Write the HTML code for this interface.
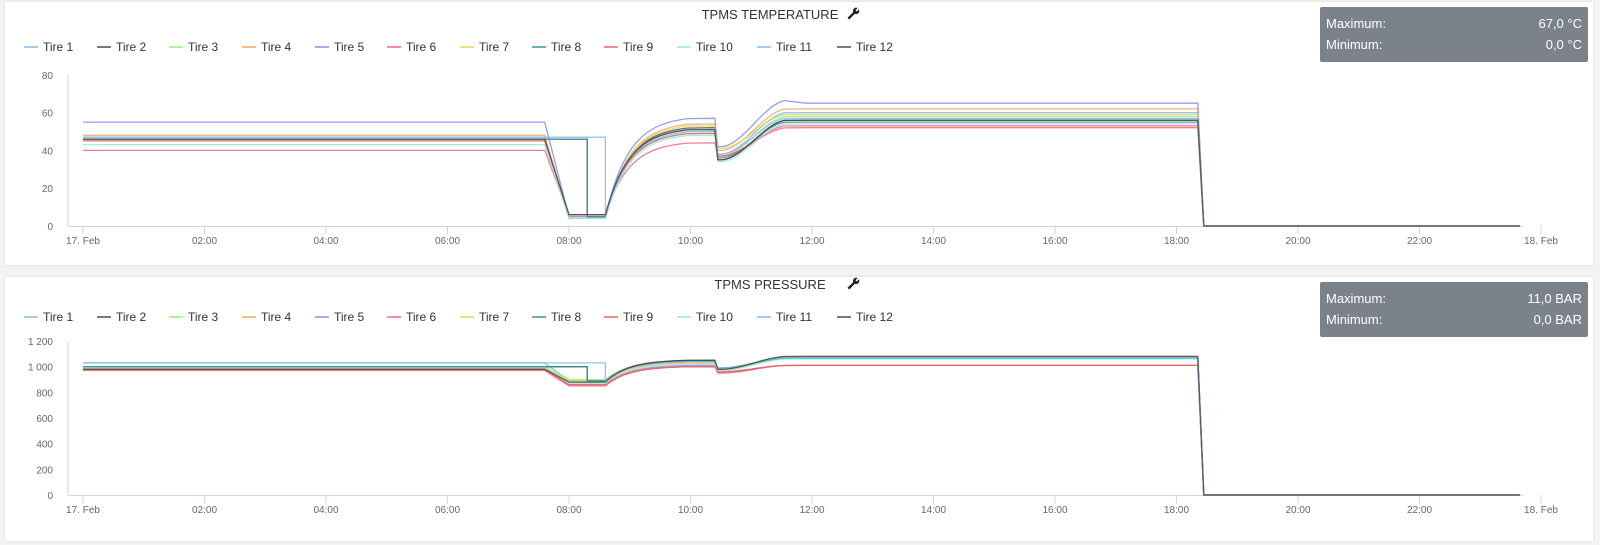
<!DOCTYPE html>
<html><head><meta charset="utf-8"><style>
body{margin:0;width:1600px;height:545px;background:#f3f3f3;font-family:"Liberation Sans",sans-serif;overflow:hidden;position:relative}
.panel{position:absolute;left:5px;width:1588px;background:#fff;box-shadow:0 0 3px rgba(0,0,0,.12)}
.box{position:absolute;left:1315px;width:268px;height:55px;background:#7c828c;color:#fff;font-size:13px;border-radius:2px}
.box div{position:absolute;left:6px;right:6px;display:flex;justify-content:space-between}
svg{position:absolute;left:0;top:0}
</style></head><body>
<div class="panel" style="top:2px;height:263px"><div class="box" style="top:5px"><div style="top:9px"><span>Maximum:</span><span>67,0 °C</span></div><div style="top:30px"><span>Minimum:</span><span>0,0 °C</span></div></div></div>
<div class="panel" style="top:277px;height:264px"><div class="box" style="top:5px"><div style="top:9px"><span>Maximum:</span><span>11,0 BAR</span></div><div style="top:30px"><span>Minimum:</span><span>0,0 BAR</span></div></div></div>
<svg id="s" width="1600" height="545" xmlns="http://www.w3.org/2000/svg" font-family="Liberation Sans, sans-serif"></svg>
<script>
var C=["#7cb5ec","#434348","#90ed7d","#f7a35c","#8085e9","#f15c80","#e4d354","#2b908f","#f45b5b","#91e8e1","#7cb5ec","#434348"];
var s=document.getElementById('s'),h='';
function X(t){return 83+60.75*t}
function wrench(x,y){return '<g transform="translate('+x+','+y+') rotate(45)"><rect x="-1.2" y="-1" width="2.4" height="9" fill="#222"/><circle cx="0" cy="-3" r="3.2" fill="#222"/><rect x="-0.9" y="-7" width="1.8" height="4" fill="#fff"/></g>';}
function chart(oy,title,titleX,y0,ypx,vmax,step,fmt,series){
 h+='<text x="'+titleX+'" y="'+(oy+19)+'" font-size="13" text-anchor="middle" fill="#333">'+title+'</text>';
 h+=wrench(titleX+84,oy+13);
 var lx=[24,97,169,242,315,387,460,532,604,677,757,837];
 for(var i=0;i<12;i++){h+='<line x1="'+lx[i]+'" x2="'+(lx[i]+14)+'" y1="'+(oy+47)+'" y2="'+(oy+47)+'" stroke="'+C[i]+'" stroke-width="2" opacity=".7"/><text x="'+(lx[i]+19)+'" y="'+(oy+51)+'" font-size="12" fill="#333">Tire '+(i+1)+'</text>';}
 var yb=oy+y0;
 for(var v=0;v<=vmax;v+=step){h+='<text x="53" y="'+(yb-v*ypx+4)+'" font-size="10" fill="#666" text-anchor="end">'+fmt(v)+'</text>';}
 h+='<line x1="68" x2="68" y1="'+(yb-vmax*ypx)+'" y2="'+yb+'" stroke="#ccd6eb"/>';
 h+='<line x1="68" x2="1523" y1="'+(yb+0.5)+'" y2="'+(yb+0.5)+'" stroke="#ccd6eb"/>';
 var lab=["17. Feb","02:00","04:00","06:00","08:00","10:00","12:00","14:00","16:00","18:00","20:00","22:00","18. Feb"];
 for(var k=0;k<13;k++){var x=X(2*k);h+='<line x1="'+x+'" x2="'+x+'" y1="'+yb+'" y2="'+(yb+8)+'" stroke="#ccd6eb"/><text x="'+x+'" y="'+(yb+18)+'" font-size="10" fill="#666" text-anchor="middle">'+lab[k]+'</text>';}
 series.forEach(function(p,i){var d=p.map(function(q){return X(q[0]).toFixed(1)+','+(yb-q[1]*ypx).toFixed(1)}).join(' ');h+='<polyline points="'+d+'" fill="none" stroke="'+C[i]+'" stroke-width="1.3" opacity=".8"/>';});
}
function build(base,low,dropEnd,plat,dip,fin,peak,off){
 var p=[[0,base]];
 var dropStart=off.ds||7.6;
 p.push([dropStart,base]);p.push([dropEnd,low]);
 p.push([8.6,low]);
 for(var t=8.6;t<=10.0;t+=0.05){var f=1-Math.exp(-(t-8.6)*2.6);p.push([t,low+(plat-low)*f/ (1-Math.exp(-1.4*2.6))]);}
 p.push([10.4,plat]);p.push([10.45,dip]);
 for(var t=10.5;t<=11.6;t+=0.05){var f=(t-10.5)/1.1;f=f*f*(3-2*f);p.push([t,dip+(peak-dip)*f]);}
 p.push([11.9,fin]);p.push([18.35,fin]);p.push([18.45,0]);p.push([23.65,0]);
 return p;
}
function hold(p,val,until){var q=[[0,val],[until,val],[until,p[2][1]]];return q.concat(p.slice(3));}
var tb=[46,46,45,48,55,40,47,46,45,43,47,46],tp=[50,52,49,54,57,44,53,51,49,48,51,51],td=[38,35,37,40,42,37,41,36,37,34,38,35],tf=[60,56,58,62,65,53,59,55,52,54,57,56];
var T=[];
for(var i=0;i<12;i++){var p=build(tb[i],4+(i%3),8.0,tp[i],td[i],tf[i],tf[i]+(i==4?1.5:0),{});
 if(i==1||i==7)p=hold(p,tb[i],8.3);if(i==10)p=hold(p,tb[i],8.6);T.push(p);}
chart(0,"TPMS TEMPERATURE",770,226,1.89,80,20,function(v){return v},T);
var pb=[1030,1000,1000,990,980,980,990,1000,970,990,1030,980],pl=[890,890,900,880,860,860,890,890,850,870,890,880],pp=[1040,1050,1040,1030,1010,1000,1030,1045,1000,1020,1040,1050],pd=[990,980,985,980,960,960,975,990,950,970,990,980],pf=[1070,1075,1065,1080,1010,1010,1070,1065,1010,1060,1070,1080];
var P=[];
for(var i=0;i<12;i++){var p=build(pb[i],pl[i],8.0,pp[i],pd[i],pf[i],pf[i],{});if(i==1||i==7)p=hold(p,pb[i],8.3);if(i==10)p=hold(p,pb[i],8.6);P.push(p);}
chart(270,"TPMS PRESSURE",770,225,0.1283,1200,200,function(v){return v>=1000?"1 "+String(v).slice(1):v},P);
s.innerHTML=h;
</script>
</body></html>
